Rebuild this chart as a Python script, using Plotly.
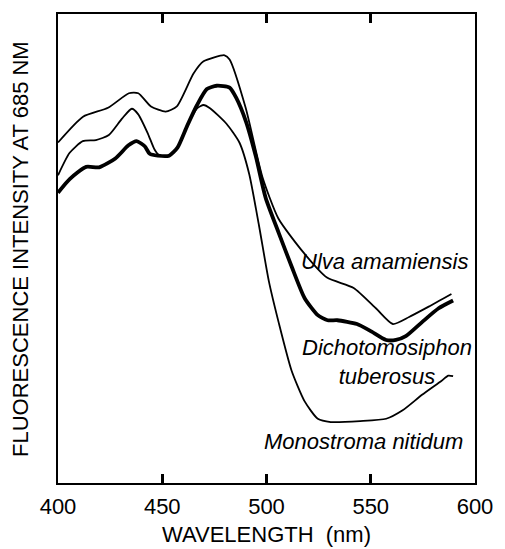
import plotly.graph_objects as go

# Ulva amamiensis (thin, top)
ulva_nm = [400, 412, 424, 434, 438.5, 444.6, 451.6, 457, 465, 469.8, 479.9, 482.3,
           490, 498, 505.7, 518, 529, 541.8, 552.6, 560.6, 568.4, 577.8, 588.7]
ulva_val = [72.6, 78.1, 80.0, 83.1, 83.1, 80.3, 79.2, 80.3, 87.3, 89.9, 91.2, 90.3,
            80.0, 65.3, 56.4, 49.0, 43.8, 41.6, 37.2, 33.9, 35.4, 37.6, 40.3]

# Dichotomosiphon tuberosus (thick)
dicho_nm = [400, 405.6, 413.5, 419.7, 427.5, 433.8, 437.7, 441.6, 444, 447.9, 453.3,
            457.3, 462, 466.7, 471.4, 476.1, 482.3, 485.5, 490.2, 494.9, 499.6, 505.8,
            512.1, 518.3, 524.6, 529.3, 534, 543.4, 549.6, 557.4, 562.1, 566.8, 574.6,
            582.4, 589.5]
dicho_val = [61.9, 64.8, 67.4, 67.3, 69.2, 72.0, 72.9, 71.8, 70.2, 69.8, 69.8,
             71.5, 76.2, 80.6, 84.0, 84.7, 84.3, 82.1, 77.0, 69.6, 60.8, 53.4,
             46.1, 39.4, 35.8, 34.7, 34.7, 33.9, 32.5, 30.5, 30.5, 31.3, 34.3,
             37.2, 38.9]

# Monostroma nitidum (thin, lowest at right)
mono_nm = [400, 405.6, 411.9, 418.2, 424.4, 430.7, 435.4, 438.5, 443.2, 446.3, 448.7,
           453.3, 457.3, 462, 466.7, 469.8, 472.9, 480.8, 487, 491.7, 496.4, 501.1,
           505.8, 512, 518.3, 524.6, 530.8, 544.9, 557.4, 565.3, 574.6, 584, 587.2, 589.5]
mono_val = [65.6, 70.4, 72.9, 73.1, 74.2, 77.7, 79.8, 78.6, 74.4, 71.1, 69.8,
            69.8, 71.5, 76.2, 79.9, 80.6, 79.9, 76.6, 72.6, 65.9, 54.9, 43.1,
            34.3, 24.0, 17.4, 13.7, 13.0, 13.2, 13.7, 15.5, 18.8, 21.8, 22.9, 22.8]

x_ticks = [400, 450, 500, 550, 600]

FONT = "Liberation Sans"
FS = 22

fig = go.Figure()
fig.add_trace(go.Scatter(x=ulva_nm, y=ulva_val, mode="lines",
                         line=dict(color="black", width=1.8, shape="spline", smoothing=0.6)))
fig.add_trace(go.Scatter(x=mono_nm, y=mono_val, mode="lines",
                         line=dict(color="black", width=1.8, shape="spline", smoothing=0.6)))
fig.add_trace(go.Scatter(x=dicho_nm, y=dicho_val, mode="lines",
                         line=dict(color="black", width=3.8, shape="spline", smoothing=0.6)))

fig.update_layout(
    width=505, height=549,
    margin=dict(l=58, r=20, t=12, b=66),
    paper_bgcolor="white", plot_bgcolor="white",
    showlegend=False,
    font=dict(family=FONT, size=FS, color="black"),
)
fig.update_xaxes(range=[400, 600], tickvals=x_ticks, ticktext=[str(v) for v in x_ticks],
                 ticks="inside", ticklen=9, tickwidth=2.5, tickcolor="black",
                 showline=True, linewidth=2, linecolor="black", mirror="ticks",
                 showgrid=False, zeroline=False, ticklabelstandoff=3,
                 tickfont=dict(family=FONT, size=FS, color="black"))
fig.update_yaxes(range=[0, 100], showticklabels=False, ticks="",
                 showline=True, linewidth=2, linecolor="black", mirror=True,
                 showgrid=False, zeroline=False)

fig.add_annotation(text="WAVELENGTH  (nm)", xref="paper", yref="paper",
                   x=0.5, y=-0.1405, showarrow=False,
                   xanchor="center", yanchor="bottom", font=dict(family=FONT, size=FS))
fig.add_annotation(text="FLUORESCENCE INTENSITY AT 685 NM", xref="paper", yref="paper",
                   x=-0.090, y=0.5, textangle=-90, showarrow=False,
                   xanchor="center", yanchor="middle", font=dict(family=FONT, size=FS))

fig.add_annotation(text="<i>Ulva amamiensis</i>", x=598, y=47.2, showarrow=False,
                   xanchor="right", yanchor="middle", font=dict(family=FONT, size=FS))
fig.add_annotation(text="<i>Dichotomosiphon</i><br><i>tuberosus</i>", x=558, y=25.8,
                   showarrow=False, xanchor="center", yanchor="middle", align="center",
                   font=dict(family=FONT, size=FS))
fig.add_annotation(text="<i>Monostroma nitidum</i>", x=595, y=8.8, showarrow=False,
                   xanchor="right", yanchor="middle", font=dict(family=FONT, size=FS))

fig.write_html("out.html", config={"displayModeBar": False},
               post_script="document.body.style.margin='0px';document.body.style.padding='0px';")
